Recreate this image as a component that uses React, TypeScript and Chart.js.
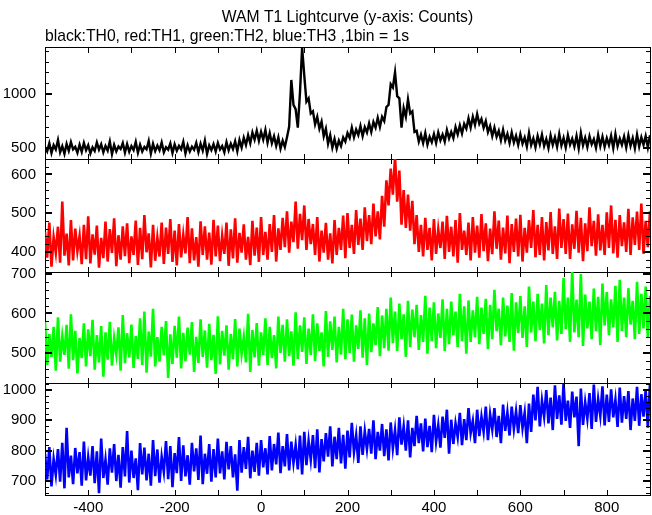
import React, { useEffect, useRef } from 'react';
import { Chart, registerables } from 'chart.js';

Chart.register(...registerables);

const FONT = "'Liberation Sans', Arial, Helvetica, sans-serif";

// time bins (seconds since trigger): upper values at start of each 10 s group, lower values 5 s later
const binStart = -500;
const binStep = 10;
const xMin = -500;
const xMax = 900;
const xTickStep = 100;
const xLabelStep = 200;

const titleText = 'WAM T1 Lightcurve (y-axis: Counts)';
const subtitleText = 'black:TH0, red:TH1, green:TH2, blue:TH3 ,1bin = 1s';

// TH0 (black)
const th0Upper = [
  510, 545, 528, 575, 518, 540, 556, 512, 533, 549,
  527, 508, 552, 536, 521, 562, 530, 515, 547, 538,
  519, 558, 531, 512, 566, 540, 524, 553, 509, 544,
  535, 521, 560, 528, 514, 549, 542, 570, 526, 537,
  548, 520, 556, 541, 563, 575, 596, 620, 645, 662,
  652, 668, 640, 610, 600, 570, 600, 1130, 860, 1010,
  1170, 960, 840, 790, 745, 680, 620, 585, 570, 600,
  640, 690, 672, 705, 694, 730, 742, 780, 790, 880,
  1090, 1200, 960, 870, 950, 840, 660, 625, 640, 605,
  630, 645, 626, 668, 650, 695, 710, 725, 775, 790,
  815, 770, 750, 705, 690, 660, 670, 632, 645, 615,
  628, 598, 640, 590, 612, 625, 585, 618, 600, 632,
  595, 620, 588, 612, 640, 596, 610, 583, 622, 605,
  592, 615, 630, 589, 606, 618, 594, 625, 600, 612,
  620,
];
const th0Lower = [
  470, 455, 488, 462, 448, 476, 490, 458, 466, 481,
  452, 474, 486, 461, 478, 445, 470, 492, 459, 468,
  483, 457, 470, 489, 450, 473, 480, 462, 487, 455,
  476, 490, 451, 469, 485, 463, 478, 447, 482, 470,
  488, 462, 480, 492, 471, 505, 530, 545, 578, 568,
  580, 552, 545, 522, 495, 510, 700, 900, 690, 1430,
  930, 820, 720, 680, 610, 540, 505, 495, 520, 560,
  595, 600, 622, 612, 645, 650, 690, 695, 750, 900,
  1060, 980, 690, 790, 820, 650, 560, 548, 532, 555,
  548, 572, 560, 590, 592, 628, 635, 680, 690, 715,
  725, 688, 648, 610, 605, 572, 570, 548, 552, 530,
  542, 515, 528, 508, 535, 520, 502, 530, 512, 525,
  505, 532, 515, 498, 526, 510, 535, 503, 520, 512,
  528, 500, 518, 530, 506, 522, 498, 515, 531, 508,
  515,
];

// TH1 (red)
const th1Upper = [
  452, 476, 438, 465, 530, 447, 482, 460, 441, 470,
  492, 445, 468, 436, 478, 459, 487, 443, 466, 474,
  440, 481, 462, 495, 448, 470, 437, 476, 463, 485,
  455, 472, 444, 490, 461, 438, 479, 466, 450, 483,
  468, 442, 476, 458, 487, 449, 471, 439, 480, 463,
  490, 452, 472, 495, 461, 488, 505, 478, 530, 498,
  520, 485, 472, 490, 455, 475, 448, 482, 462, 494,
  500, 470, 508, 486, 515, 495, 525, 505, 545, 585,
  615, 645, 610, 560, 548, 532, 495, 470, 488, 462,
  485, 458, 478, 493, 465, 482, 500, 455, 476, 490,
  468, 498, 474, 460, 505, 481, 463, 494, 472, 486,
  496, 462, 482, 508, 470, 490, 477, 503, 466, 512,
  485, 499, 471, 506, 488, 474, 515, 480, 497, 470,
  502, 520, 483, 495, 476, 511, 489, 504, 525, 480,
  505,
];
const th1Lower = [
  385, 362, 398, 372, 390, 365, 378, 402, 368, 381,
  370, 393, 359, 384, 375, 397, 363, 380, 389, 371,
  392, 366, 381, 399, 360, 377, 388, 369, 395, 374,
  365, 386, 396, 371, 378, 362, 392, 380, 367, 388,
  376, 395, 364, 383, 372, 398, 380, 366, 390, 374,
  392, 380, 400, 375, 405, 412, 398, 425, 408, 430,
  405, 420, 392, 375, 398, 380, 370, 392, 405, 384,
  410, 395, 418, 405, 428, 420, 440, 432, 465, 520,
  548, 530, 470, 462, 455, 420, 400, 388, 405, 378,
  395, 410, 382, 400, 388, 372, 405, 392, 378, 398,
  385, 402, 376, 394, 408, 380, 396, 371, 400, 388,
  375, 398, 410, 386, 392, 378, 404, 395, 382, 410,
  395, 382, 408, 398, 376, 402, 415, 390, 404, 392,
  410, 396, 385, 415, 400, 392, 418, 405, 395, 412,
  400,
];

// TH2 (green)
const th2Upper = [
  578, 548, 566, 590, 542, 571, 598, 556, 538, 575,
  560, 584, 545, 568, 552, 579, 537, 565, 596, 550,
  572, 543, 588, 605, 554, 612, 540, 566, 581, 547,
  569, 592, 551, 564, 578, 541, 585, 557, 574, 546,
  593, 556, 570, 548, 586, 562, 540, 599, 558, 576,
  552, 588, 566, 545, 592, 571, 585, 555, 603, 570,
  590, 562, 598, 575, 552, 606, 580, 592, 566, 612,
  585, 597, 570, 608, 588, 600, 575, 616, 595, 612,
  640, 605, 625, 598, 632, 610, 622, 596, 645, 615,
  628, 600, 636, 612, 630, 605, 650, 618, 633, 608,
  642, 615, 637, 622, 660, 612, 640, 620, 652, 628,
  644, 618, 668, 630, 650, 625, 672, 640, 655, 632,
  690, 640, 710, 635, 700, 648, 630, 663, 642, 676,
  654, 636, 670, 685, 640, 664, 632, 680, 650, 668,
  645,
];
const th2Lower = [
  470, 490, 455, 478, 495, 460, 482, 448, 487, 466,
  492, 458, 476, 440, 483, 468, 497, 455, 474, 489,
  462, 485, 470, 450, 491, 466, 478, 494, 437, 472,
  488, 461, 479, 496, 452, 475, 490, 463, 482, 447,
  471, 493, 458, 484, 466, 498, 476, 452, 489, 468,
  495, 470, 487, 461, 500, 478, 492, 468, 485, 503,
  472, 495, 480, 505, 466, 490, 508, 476, 496, 484,
  500, 478, 510, 488, 470, 502, 520, 492, 512, 506,
  525, 505, 535, 490, 515, 540, 508, 528, 498, 530,
  512, 538, 505, 522, 545, 515, 530, 498, 528, 540,
  522, 548, 510, 535, 555, 520, 542, 528, 506, 550,
  538, 515, 552, 530, 558, 524, 545, 565, 532, 548,
  560, 528, 552, 540, 518, 562, 535, 555, 520, 570,
  545, 565, 528, 556, 540, 572, 535, 548, 562, 538,
  555,
];

// TH3 (blue)
const th3Upper = [
  790, 812, 772, 805, 826, 875, 784, 809, 795, 830,
  778, 815, 798, 840, 770, 808, 822, 786, 812, 865,
  800, 775, 825, 810, 790, 835, 804, 780, 832, 815,
  792, 845, 818, 785, 826, 808, 850, 790, 822, 805,
  840, 798, 829, 815, 788, 835, 812, 846, 800, 826,
  835, 808, 848, 822, 860, 815, 855, 830, 818, 850,
  862, 832, 851, 870, 838, 858, 880, 846, 875, 852,
  866, 892, 850, 880, 864, 872, 900, 862, 888, 870,
  893, 868, 910, 880, 900, 875, 915, 890, 906, 882,
  918, 884, 912, 935, 902, 890, 925, 904, 940, 898,
  935, 912, 945, 920, 940, 915, 952, 926, 945, 930,
  950, 925, 955, 985, 1010, 965, 1000, 975, 1015, 982,
  1020, 965, 995, 978, 1005, 960, 990, 1018, 970, 1012,
  985, 1002, 968, 1008, 980, 996, 972, 1010, 986, 1000,
  1022,
];
const th3Lower = [
  705, 682, 720, 698, 676, 712, 690, 725, 685, 702,
  718, 693, 660, 710, 688, 728, 700, 678, 715, 695,
  710, 670, 722, 702, 685, 716, 695, 730, 706, 680,
  726, 700, 715, 688, 732, 704, 690, 724, 698, 712,
  725, 705, 738, 712, 668, 728, 740, 709, 730, 718,
  745, 722, 735, 755, 726, 748, 735, 760, 738, 722,
  752, 770, 742, 728, 765, 780, 748, 772, 758, 741,
  778, 795, 760, 786, 805, 790, 772, 800, 782, 768,
  808, 785, 820, 800, 778, 815, 825, 798, 812, 795,
  830, 810, 842, 790, 822, 845, 818, 835, 858, 825,
  848, 862, 835, 870, 845, 825, 865, 850, 872, 858,
  875, 825, 862, 900, 880, 912, 890, 868, 905, 886,
  898, 875, 910, 815, 885, 905, 872, 895, 915, 883,
  895, 910, 878, 892, 905, 868, 898, 882, 912, 876,
  890,
];

type PanelDef = {
  upper: number[];
  lower: number[];
  color: string;
  lineWidth: number;
  yMin: number;
  yMax: number;
  minorStep: number;
  majorStep: number;
  top: number;
  height: number;
  padTop: number;
  padBottom: number;
  first: boolean;
  last: boolean;
};

const panels: PanelDef[] = [
  { upper: th0Upper, lower: th0Lower, color: '#000000', lineWidth: 2.4, yMin: 400, yMax: 1425, minorStep: 100, majorStep: 500, top: 0, height: 168, padTop: 0, padBottom: 9, first: true, last: false },
  { upper: th1Upper, lower: th1Lower, color: '#ff0000', lineWidth: 2.6, yMin: 348, yMax: 640, minorStep: 20, majorStep: 100, top: 150, height: 131, padTop: 9, padBottom: 9, first: false, last: false },
  { upper: th2Upper, lower: th2Lower, color: '#00ff00', lineWidth: 2.6, yMin: 424, yMax: 705, minorStep: 20, majorStep: 100, top: 263, height: 129, padTop: 9, padBottom: 9, first: false, last: false },
  { upper: th3Upper, lower: th3Lower, color: '#0000ff', lineWidth: 2.6, yMin: 654, yMax: 1023, minorStep: 20, majorStep: 100, top: 374, height: 141, padTop: 9, padBottom: 0, first: false, last: true },
];

function toPoints(upper: number[], lower: number[]) {
  const pts: { x: number; y: number }[] = [];
  const n = Math.max(upper.length, lower.length);
  for (let i = 0; i < n; i++) {
    const t = binStart + binStep * i;
    if (i < upper.length) pts.push({ x: t, y: upper[i] });
    if (i < lower.length) pts.push({ x: t + binStep / 2, y: lower[i] });
  }
  return pts;
}

const isMultiple = (v: number, s: number) => Math.abs(v / s - Math.round(v / s)) < 1e-6;

const innerTicks = {
  id: 'innerTicks',
  afterDraw(chart: any) {
    const { ctx, chartArea } = chart;
    const { left, right, top, bottom } = chartArea;
    const xs = chart.scales.x;
    const ys = chart.scales.y;
    ctx.save();
    ctx.strokeStyle = '#000';
    ctx.lineWidth = 1;
    ctx.beginPath();
    xs.ticks.forEach((t: any) => {
      const px = Math.round(xs.getPixelForValue(t.value)) + 0.5;
      ctx.moveTo(px, top);
      ctx.lineTo(px, top + 5);
      ctx.moveTo(px, bottom);
      ctx.lineTo(px, bottom - 5);
    });
    ctx.stroke();
    ys.ticks.forEach((t: any) => {
      const major = t.label !== '' && t.label !== undefined;
      const py = Math.round(ys.getPixelForValue(t.value)) + (major ? 0 : 0.5);
      ctx.lineWidth = major ? 2 : 1;
      const len = major ? 7 : 4;
      ctx.beginPath();
      ctx.moveTo(left, py);
      ctx.lineTo(left + len, py);
      ctx.moveTo(right, py);
      ctx.lineTo(right - len, py);
      ctx.stroke();
    });
    ctx.restore();
  },
};

const zeroPad = (s: any) => {
  s.paddingTop = 0;
  s.paddingBottom = 0;
  s.paddingLeft = 0;
  s.paddingRight = 0;
};

function Panel({ p }: { p: PanelDef }) {
  const ref = useRef<HTMLCanvasElement | null>(null);
  useEffect(() => {
    if (!ref.current) return;
    const tickFont = { family: FONT, size: 15 };
    const border = { display: true, color: '#000', width: 1 };
    const noGrid = { display: false, drawTicks: false };
    const chart = new Chart(ref.current, {
      type: 'line',
      data: {
        datasets: [
          {
            data: toPoints(p.upper, p.lower),
            borderColor: p.color,
            backgroundColor: p.color,
            borderWidth: p.lineWidth,
            pointRadius: 0,
            tension: 0,
            fill: false,
            borderJoinStyle: 'miter',
          },
        ],
      },
      options: {
        animation: false,
        responsive: false,
        maintainAspectRatio: false,
        events: [],
        layout: { padding: { top: p.padTop, bottom: p.padBottom, left: 0, right: 2 } },
        plugins: {
          legend: { display: false },
          tooltip: { enabled: false },
          title: {
            display: p.first,
            text: titleText,
            color: '#000',
            fullSize: false,
            font: { family: FONT, size: 15.7, weight: 'normal', lineHeight: 1.2 },
            padding: { top: 8, bottom: 0 },
          },
          subtitle: {
            display: p.first,
            text: subtitleText,
            align: 'start',
            color: '#000',
            fullSize: false,
            font: { family: FONT, size: 15.7, weight: 'normal', lineHeight: 1.2 },
            padding: { top: 0, bottom: 2.3 },
          },
        },
        scales: {
          x: {
            type: 'linear',
            position: 'bottom',
            min: xMin,
            max: xMax,
            grid: noGrid,
            border,
            ticks: {
              display: p.last,
              stepSize: xTickStep,
              autoSkip: false,
              maxRotation: 0,
              includeBounds: false,
              padding: 4,
              color: '#000',
              font: tickFont,
              callback: (v: any) => (isMultiple(Number(v), xLabelStep) ? String(v) : ''),
            },
            afterFit: (s: any) => {
              s.height = p.last ? 20 : 0;
              zeroPad(s);
            },
          },
          xTop: {
            type: 'linear',
            position: 'top',
            min: xMin,
            max: xMax,
            grid: noGrid,
            border,
            ticks: { display: false },
            afterFit: (s: any) => {
              s.height = 0;
              zeroPad(s);
            },
          },
          y: {
            type: 'linear',
            position: 'left',
            min: p.yMin,
            max: p.yMax,
            grid: noGrid,
            border,
            ticks: {
              stepSize: p.minorStep,
              autoSkip: false,
              includeBounds: false,
              padding: 9,
              color: '#000',
              font: tickFont,
              callback: (v: any) => (isMultiple(Number(v), p.majorStep) ? String(v) : ''),
            },
            afterFit: (s: any) => {
              s.width = 45;
              zeroPad(s);
            },
          },
          yRight: {
            type: 'linear',
            position: 'right',
            min: p.yMin,
            max: p.yMax,
            grid: noGrid,
            border,
            ticks: { display: false },
            afterFit: (s: any) => {
              s.width = 0;
              zeroPad(s);
            },
          },
        },
      } as any,
      plugins: [innerTicks as any],
    });
    return () => chart.destroy();
  }, [p]);
  return (
    <canvas
      ref={ref}
      width={652}
      height={p.height}
      style={{ position: 'absolute', left: 0, top: p.top, width: 652, height: p.height }}
    />
  );
}

export default function App() {
  return (
    <div
      style={{
        position: 'fixed',
        left: 0,
        top: 0,
        width: 652,
        height: 515,
        background: '#ffffff',
        overflow: 'hidden',
      }}
    >
      {panels.map((p, i) => (
        <Panel key={i} p={p} />
      ))}
    </div>
  );
}
